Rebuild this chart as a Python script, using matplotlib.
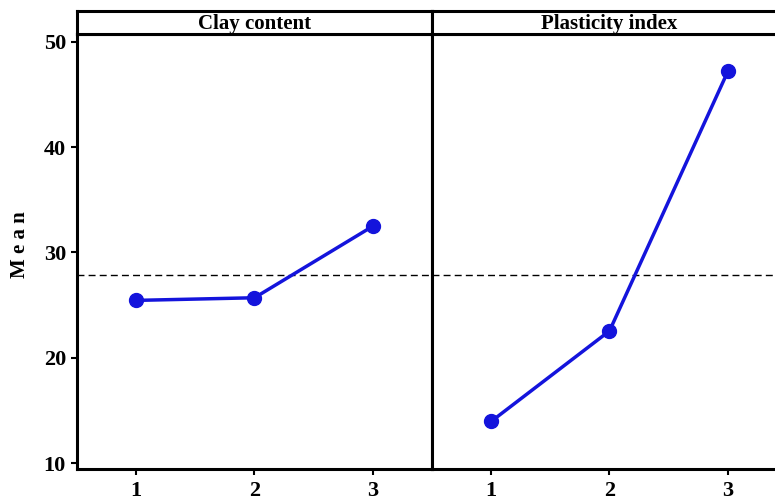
import matplotlib
matplotlib.use("Agg")
import matplotlib.pyplot as plt

levels = [1, 2, 3]
tick_labels = ["1", "2", "3"]
panels = ["Clay content", "Plasticity index"]
clay_means = [25.45, 25.7, 32.5]
pi_means = [13.95, 22.55, 47.2]
grand_mean = 27.9
yticks = [10, 20, 30, 40, 50]

plt.rcParams['font.family'] = ['Liberation Serif', 'DejaVu Serif']
plt.rcParams['font.weight'] = 'bold'

W, H = 775, 501
fig = plt.figure(figsize=(W / 100, H / 100), dpi=100)

def fx(px):
    return px / W

def fy(py):
    return 1 - py / H

left_px, div_px, pw = 77, 432, 355
top_px, bot_px, head_top = 34, 469, 11

series = [clay_means, pi_means]
color = '#1414DC'
lw_sp = 2.2
axes = []
for i, (name, vals) in enumerate(zip(panels, series)):
    x0 = left_px + i * pw
    ax = fig.add_axes([fx(x0), fy(bot_px), fx(pw), fy(top_px) - fy(bot_px)])
    ax.plot(levels, vals, color=color, lw=2.5, marker='o', ms=10, zorder=3)
    ax.axhline(grand_mean, color='black', lw=1.0, ls=(0, (5, 3)))
    ax.set_xlim(0.5, 3.5)
    ax.set_ylim(9.43, 50.76)
    ax.set_xticks(levels)
    ax.set_xticklabels(tick_labels)
    ax.tick_params(axis='x', length=4, width=1.5, labelsize=16, pad=5)
    if i == 0:
        ax.set_yticks(yticks)
        ax.tick_params(axis='y', length=4, width=1.5, labelsize=16, pad=4)
    else:
        ax.set_yticks([])
    for s in ax.spines.values():
        s.set_linewidth(lw_sp)
    for lab in ax.get_xticklabels() + ax.get_yticklabels():
        lab.set_fontweight('bold')
    # header strip
    hax = fig.add_axes([fx(x0), fy(top_px), fx(pw), fy(head_top) - fy(top_px)])
    hax.set_xticks([])
    hax.set_yticks([])
    for s in hax.spines.values():
        s.set_linewidth(lw_sp)
    hax.text(0.5, 0.42, name, ha='center', va='center', fontsize=15,
             fontweight='bold', transform=hax.transAxes)
    axes.append(ax)

fig.text(fx(20), fy(245), "M e a n", rotation=90, ha='center', va='center',
         fontsize=15, fontweight='bold')

fig.savefig("out.png", dpi=100)
